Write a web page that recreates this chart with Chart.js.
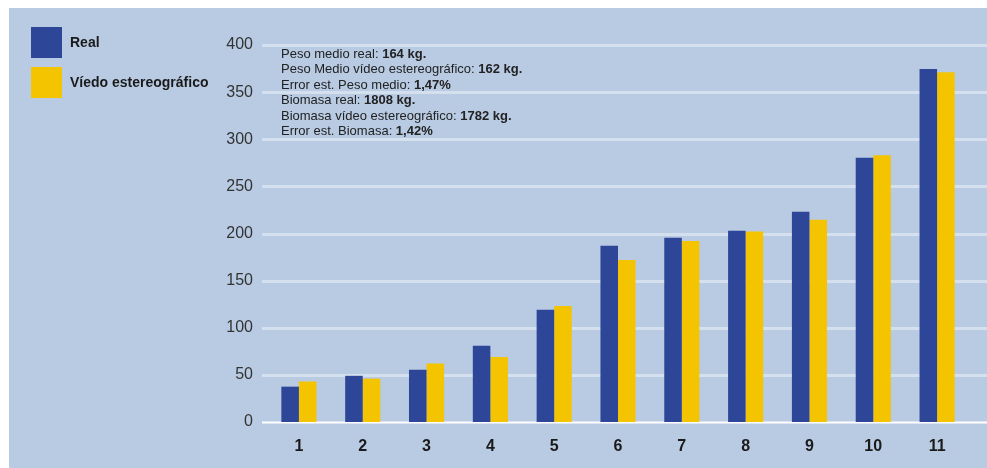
<!DOCTYPE html>
<html>
<head>
<meta charset="utf-8">
<title>Peso real vs vídeo estereográfico</title>
<script src="https://cdn.jsdelivr.net/npm/chart.js@4.4.1/dist/chart.umd.min.js"></script>
<style>
    html, body { margin: 0; padding: 0; background: #ffffff; }
    #wrap { width: 987px; height: 468px; }
</style>
</head>
<body>
<div id="wrap"><canvas id="pesoChart" width="987" height="468"></canvas></div>
<script>
// Muestras (1..11) y pesos en kg
const categories = ['1', '2', '3', '4', '5', '6', '7', '8', '9', '10', '11'];
const realValues = [37.5, 49, 55.5, 81, 119, 187, 195.5, 203, 223, 280.5, 374.5];
const videoValues = [43, 46, 62, 69, 123, 172, 192, 202, 214.5, 283, 371];
const yTicks = [0, 50, 100, 150, 200, 250, 300, 350, 400];

// Texto de resumen: [texto normal, texto en negrita]
const summaryLines = [
    ['Peso medio real: ', '164 kg.'],
    ['Peso Medio vídeo estereográfico: ', '162 kg.'],
    ['Error est. Peso medio: ', '1,47%'],
    ['Biomasa real: ', '1808 kg.'],
    ['Biomasa vídeo estereográfico: ', '1782 kg.'],
    ['Error est. Biomasa: ', '1,42%']
];

const BLUE = '#2e4698';
const YELLOW = '#f4c400';
const PANEL = '#b8cbe3';
const FONT = '"Liberation Sans", Arial, sans-serif';

// Panel de fondo, líneas de rejilla, leyenda y resumen
const panelPlugin = {
    id: 'panel',
    beforeDraw(chart) {
        const ctx = chart.ctx;
        ctx.save();
        ctx.fillStyle = PANEL;
        ctx.fillRect(9, 8, chart.width - 9, chart.height - 8);
        ctx.restore();
    },
    beforeDatasetsDraw(chart) {
        const ctx = chart.ctx;
        const y = chart.scales.y;
        ctx.save();
        yTicks.forEach(v => {
            const py = Math.round(y.getPixelForValue(v));
            ctx.beginPath();
            if (v === 0) {
                ctx.strokeStyle = '#ffffff';
                ctx.lineWidth = 2;
            } else {
                ctx.strokeStyle = 'rgba(255, 255, 255, 0.4)';
                ctx.lineWidth = 3;
            }
            ctx.moveTo(262, py + 0.5);
            ctx.lineTo(chart.width, py + 0.5);
            ctx.stroke();
        });
        ctx.restore();
    },
    afterDraw(chart) {
        const ctx = chart.ctx;
        ctx.save();

        // Leyenda
        chart.data.datasets.forEach((ds, i) => {
            const top = 27 + i * 40;
            ctx.fillStyle = ds.backgroundColor;
            ctx.fillRect(31, top, 31, 31);
            ctx.fillStyle = '#1a1a1a';
            ctx.font = 'bold 14px ' + FONT;
            ctx.textBaseline = 'middle';
            ctx.fillText(ds.label, 70, top + 16);
        });

        // Resumen de pesos y biomasa
        ctx.textBaseline = 'middle';
        summaryLines.forEach((line, i) => {
            const ly = 54.5 + i * 15.4;
            ctx.font = '13px ' + FONT;
            ctx.fillStyle = '#222222';
            ctx.fillText(line[0], 281, ly);
            const w = ctx.measureText(line[0]).width;
            ctx.font = 'bold 13px ' + FONT;
            ctx.fillText(line[1], 281 + w, ly);
        });
        ctx.restore();
    }
};

const ctx = document.getElementById('pesoChart').getContext('2d');
new Chart(ctx, {
    type: 'bar',
    data: {
        labels: categories,
        datasets: [
            {
                label: 'Real',
                data: realValues,
                backgroundColor: BLUE,
                borderWidth: 0,
                barPercentage: 1.0,
                categoryPercentage: 0.55
            },
            {
                label: 'Víedo estereográfico',
                data: videoValues,
                backgroundColor: YELLOW,
                borderWidth: 0,
                barPercentage: 1.0,
                categoryPercentage: 0.55
            }
        ]
    },
    options: {
        responsive: false,
        animation: false,
        layout: {
            padding: { left: 0, right: 18, top: 45, bottom: 0 }
        },
        plugins: {
            legend: { display: false },
            tooltip: { enabled: false }
        },
        scales: {
            x: {
                grid: { display: false, drawTicks: false },
                border: { display: false },
                ticks: {
                    color: '#1a1a1a',
                    padding: 15,
                    font: { family: FONT, size: 16, weight: 'bold' }
                },
                afterFit(scale) { scale.height = 46; }
            },
            y: {
                min: 0,
                max: 400,
                grid: { display: false, drawTicks: false },
                border: { display: false },
                ticks: {
                    stepSize: 50,
                    color: '#333333',
                    padding: 14,
                    font: { family: FONT, size: 16 }
                },
                afterFit(scale) { scale.width = 267; }
            }
        }
    },
    plugins: [panelPlugin]
});
</script>
</body>
</html>
